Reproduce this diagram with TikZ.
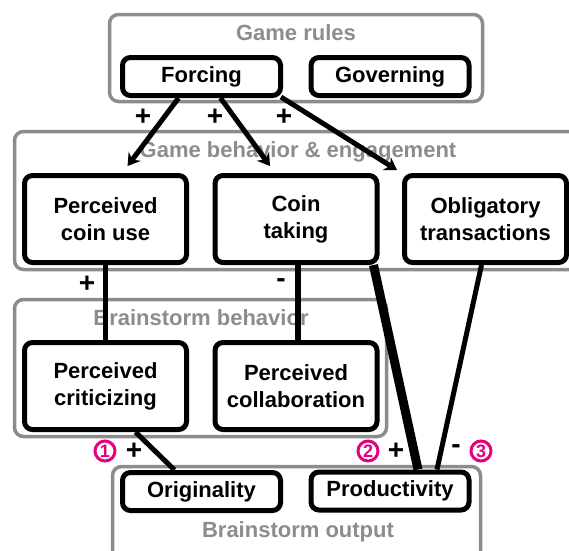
\documentclass[tikz,border=0pt]{standalone}
\usepackage{fontspec}
\setmainfont{Liberation Sans}
\usetikzlibrary{arrows.meta}
\definecolor{groupgray}{RGB}{140,140,140}
\definecolor{numpink}{RGB}{230,0,126}
\tikzset{
  grp/.style={draw=groupgray, line width=3.5pt, rounded corners=9pt},
  grplabel/.style={text=groupgray, font=\fontsize{22}{25}\selectfont\bfseries},
  box/.style={draw, line width=5pt, rounded corners=8pt, fill=white, align=center, inner sep=0pt,
    font=\fontsize{22}{27}\selectfont\bfseries},
  flatbox/.style={box, minimum width=158pt, minimum height=38pt},
  tallbox/.style={box, minimum width=162pt, minimum height=87pt},
  link/.style={line width=5pt},
  effect/.style={link, -{Stealth[length=12pt, width=15pt, inset=4pt]}},
  sign/.style={font=\fontsize{28}{28}\selectfont\bfseries, inner sep=0pt},
  num/.style={circle, draw=numpink, text=numpink, line width=3pt, minimum size=20pt, inner sep=0pt,
    font=\fontsize{18}{18}\selectfont\bfseries}
}
\begin{document}
\begin{tikzpicture}[x=1pt, y=-1pt]
    \useasboundingbox (0,0) rectangle (569,550);
    \clip (0,0) rectangle (569,550);
    \draw[grp] (109.5,14.5) rectangle (482.5,101.5);
    \draw[grp] (14.5,131.5) rectangle (600,269.5);
    \draw[grp] (14.5,299.5) rectangle (386.5,436.5);
    \draw[grp] (112.5,466.5) rectangle (480.5,580);
    \node[grplabel] (rules) at (296,33) {Game rules};
    \node[grplabel] (behavior) at (298,152) {Game behavior \& engagement};
    \node[grplabel] (brainstorm) at (201,318) {Brainstorm behavior};
    \node[grplabel] (output) at (298,532) {Brainstorm output};
    \node[flatbox] (forcing) at (201.5,76.5) {Forcing};
    \node[flatbox] (governing) at (390,76.5) {Governing};
    \node[tallbox] (coinuse) at (105.5,219) {Perceived\\coin use};
    \node[tallbox] (cointaking) at (296,219) {Coin\\taking};
    \node[tallbox] (obligatory) at (485.5,219) {Obligatory\\transactions};
    \node[tallbox] (criticizing) at (105.5,386) {Perceived\\criticizing};
    \node[tallbox] (collab) at (296,386) {Perceived\\collaboration};
    \node[flatbox] (originality) at (201.5,491.5) {Originality};
    \node[flatbox] (productivity) at (390,491) {Productivity};
    \draw[effect] ([xshift=-23pt]forcing.south) -- ([xshift=22pt,yshift=7pt]coinuse.north);
    \draw[effect] ([xshift=19pt]forcing.south) -- ([xshift=-26pt,yshift=7pt]cointaking.north);
    \draw[effect] ([xshift=-2pt,yshift=1pt]forcing.south east) -- ([xshift=-5pt,yshift=3pt]obligatory.north west);
    \draw[link] (coinuse.south) -- (criticizing.north);
    \draw[link, line width=6pt] ([xshift=2pt]cointaking.south) -- ([xshift=2pt]collab.north);
    \draw[link, line width=9pt] ([xshift=-6pt]cointaking.south east) -- ([xshift=28pt]productivity.north);
    \draw[link] ([xshift=-4pt]obligatory.south) -- ([xshift=47pt]productivity.north);
    \draw[link] ([xshift=30pt]criticizing.south) -- ([xshift=-27pt]originality.north);
    \node[sign] (s1) at (143,117) {+};
    \node[sign] (s2) at (215,117) {+};
    \node[sign] (s3) at (284,117) {+};
    \node[sign] (s4) at (87,284) {+};
    \node[sign] (s5) at (281,283) {-};
    \node[num] (n1) at (105,451) {1};
    \node[sign] (s6) at (134,451) {+};
    \node[num] (n2) at (368,451) {2};
    \node[sign] (s7) at (396,451) {+};
    \node[sign] (s8) at (456,449) {-};
    \node[num] (n3) at (481,451) {3};
\end{tikzpicture}
\end{document}
